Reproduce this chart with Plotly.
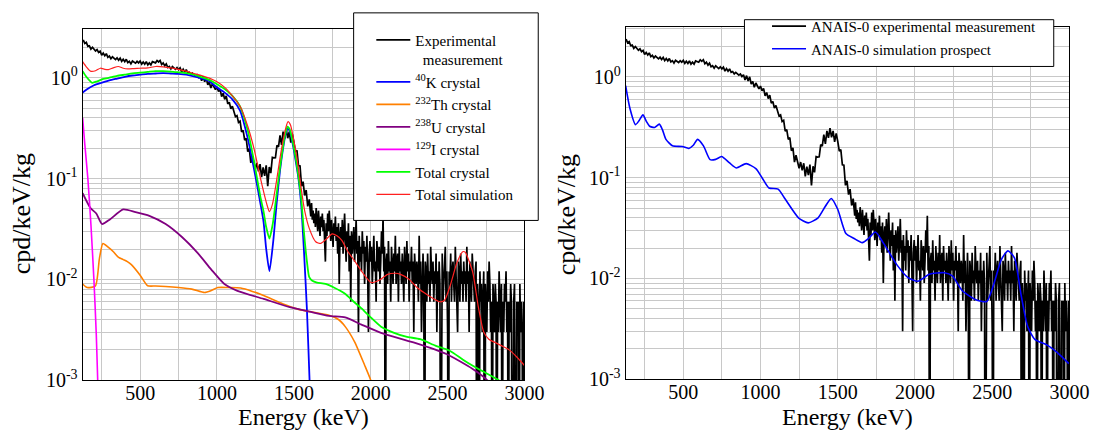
import plotly.graph_objects as go

FONT = "Liberation Serif"
GRID = "#c8c8c8"
W, H = 1106, 430

# ---------------- experimental measurement (cpd/keV/kg) ----------------
exp_low_energy = list(range(130, 1601, 10))
exp_low_rate = [
    2.37, 2.18, 2.24, 2.04, 2.07, 1.92, 2.00, 1.92, 1.84, 1.90,
    1.78, 1.83, 1.67, 1.75, 1.65, 1.73, 1.59, 1.64, 1.54, 1.61,
    1.56, 1.51, 1.57, 1.49, 1.56, 1.45, 1.52, 1.44, 1.52, 1.41,
    1.45, 1.37, 1.46, 1.42, 1.39, 1.45, 1.40, 1.46, 1.36, 1.43,
    1.36, 1.44, 1.34, 1.40, 1.34, 1.44, 1.42, 1.40, 1.48, 1.43,
    1.48, 1.35, 1.40, 1.31, 1.37, 1.26, 1.29, 1.22, 1.29, 1.24,
    1.21, 1.26, 1.20, 1.25, 1.14, 1.21, 1.14, 1.20, 1.11, 1.13,
    1.07, 1.11, 1.08, 1.04, 1.07, 1.01, 1.05, 0.93, 1.03, 0.91,
    1.00, 0.85, 0.90, 0.79, 0.87, 0.81, 0.76, 0.81, 0.73, 0.77,
    0.65, 0.70, 0.61, 0.66, 0.55, 0.57, 0.49, 0.52, 0.47, 0.41,
    0.42, 0.36, 0.37, 0.29, 0.30, 0.24, 0.25, 0.185, 0.198, 0.143,
    0.167, 0.145, 0.124, 0.143, 0.118, 0.139, 0.103, 0.129, 0.106, 0.135,
    0.084, 0.130, 0.113, 0.162, 0.160, 0.161, 0.213, 0.206, 0.267, 0.216,
    0.291, 0.248, 0.310, 0.251, 0.291, 0.227, 0.275, 0.230, 0.184, 0.190,
    0.134, 0.133, 0.084, 0.093, 0.068, 0.077, 0.053, 0.062,
]
exp_high_energy = list(range(1605, 3001, 5))
exp_high_rate = [
    .051, .042, .057, .039, .048, .036, .045, .033, .051, .039, .030, .048, .036, .027, .042, .033, .045, .030, .039, .024,
    .015, .036, .027, .045, .030, .048, .033, .024, .039, .030, .021, .036, .027, .042, .024, .033, .018, .036, .009, .027,
    .033, .021, .039, .018, .027, .045, .024, .015, .030, .021, .036, .012, .027, .006, .030, .018, .024, .033, .015, .027,
    .039, .018, .024, .003, .027, .015, .021, .012, .030, .018, .024, .009, .021, .015, .027, .012, .003, .018, .024, .015,
    .021, .009, .018, .027, .012, .015, .006, .024, .018, .012, .021, .009, .015, .030, .018, .042, .012, .021, 0, .015,
    .018, .009, .024, .012, .015, .006, .021, .015, .009, .018, .012, .027, .009, .015, .018, .006, .021, .012, .015, .009,
    .018, .012, .006, .021, .015, .009, .024, .012, .018, .006, .015, .012, .021, .009, .015, .003, .018, .012, .009, .015,
    .012, .006, .027, .009, .015, .003, .012, .018, .009, 0, .015, .012, .006, .018, .009, .012, .006, .021, .012, .009,
    .015, .006, .012, .009, .018, .003, .012, .006, .015, .009, 0, .012, .018, .006, .009, .012, .021, .006, .012, .003,
    0, .012, .009, .018, .006, .012, .015, .009, .006, .021, .012, .009, .003, .015, .012, .006, .018, .009, .012, .006,
    .015, .009, .012, .006, .021, .009, .012, .003, .015, .009, .006, .018, .012, .009, .006, .012, .015, 0, .009, .006,
    0, .012, .006, .009, .003, .006, .012, 0, .009, .006, .003, .012, .006, .015, .009, .003, .006, 0, .009, .006,
    .003, .009, .006, 0, .006, .003, .012, .006, .003, .009, 0, .006, .003, .009, .006, .012, .003, .006, 0, .006,
    .003, .009, .006, 0, .003, .006, .009, .003, 0, .006, .003, .006, 0, .009, .003, .006, .003, 0, .006, .003,
]
exp_energy = exp_low_energy + exp_high_energy
exp_rate = exp_low_rate + exp_high_rate
# empty bins are drawn down to below the axis floor, as on the log plot
exp_plot = [v if v > 0 else 1e-5 for v in exp_rate]

# ---------------- simulated components (left panel) ----------------
k40_energy = [126, 150, 200, 250, 300, 350, 400, 450, 500, 550, 600, 650, 700, 750, 800, 850, 900, 950,
              1000, 1050, 1100, 1150, 1200, 1250, 1282, 1303, 1320, 1341, 1366, 1388, 1410, 1430, 1445,
              1458, 1472, 1490, 1515, 1530, 1547, 1565, 1585, 1602, 1615]
k40_rate = [0.71, 0.76, 0.84, 0.89, 0.94, 0.98, 1.02, 1.05, 1.07, 1.09, 1.10, 1.11, 1.10, 1.09, 1.07, 1.03, 0.98, 0.92,
            0.80, 0.71, 0.61, 0.47, 0.25, 0.105, 0.057, 0.037, 0.020, 0.0121, 0.024, 0.057, 0.12, 0.20, 0.27,
            0.31, 0.30, 0.23, 0.14, 0.10, 0.057, 0.02, 0.005, 0.001, 0.0003]

th232_energy = [126, 156, 209, 235, 258, 290, 326, 360, 390, 417, 443, 500, 549, 600, 666, 750, 836, 920, 960,
                1005, 1080, 1154, 1230, 1303, 1430, 1520, 1600, 1728, 1790, 1834, 1895, 1961, 2000, 2030]
th232_rate = [0.0090, 0.0083, 0.0086, 0.016, 0.0227, 0.021, 0.0188, 0.0165, 0.0157, 0.0150, 0.0140, 0.0110,
              0.00865, 0.0086, 0.0085, 0.0083, 0.0080, 0.0074, 0.0077, 0.0083, 0.0083, 0.0082, 0.0076, 0.0069,
              0.0057, 0.0051, 0.0048, 0.0044, 0.0040, 0.0034, 0.0024, 0.0014, 0.0010, 0.0007]

u238_energy = [126, 177, 215, 252, 305, 390, 470, 560, 666, 772, 878, 963, 1048, 1133, 1303, 1473, 1600,
               1728, 1834, 1940, 2067, 2278, 2492, 2661, 2757, 2800]
u238_rate = [0.0716, 0.051, 0.045, 0.0354, 0.0395, 0.0494, 0.0465, 0.0427, 0.0354, 0.0263, 0.018, 0.0125,
             0.0090, 0.0077, 0.0064, 0.0053, 0.0048, 0.00435, 0.0042, 0.00356, 0.00295, 0.00237, 0.00182,
             0.0013, 0.0010, 0.0008]

i129_energy = [126, 140, 160, 180, 200, 215, 224, 235]
i129_rate = [0.40, 0.22, 0.10, 0.035, 0.0095, 0.0028, 0.0010, 0.0003]

crystal_energy = [126, 150, 188, 220, 260, 300, 350, 400, 450, 500, 550, 600, 650, 700, 750, 800, 850, 900,
                  950, 1000, 1050, 1100, 1150, 1200, 1240, 1282, 1303, 1320, 1341, 1362, 1388, 1410, 1430,
                  1445, 1458, 1472, 1490, 1515, 1530, 1547, 1565, 1585, 1600, 1620, 1650, 1706, 1760, 1833,
                  1890, 1940, 2000, 2067, 2152, 2230, 2322, 2420, 2513, 2600, 2661, 2740, 2835]
crystal_rate = [1.16, 1.02, 0.89, 0.92, 0.97, 1.00, 1.04, 1.07, 1.10, 1.12, 1.14, 1.16, 1.16, 1.15, 1.13, 1.11,
                1.07, 1.01, 0.95, 0.86, 0.77, 0.66, 0.52, 0.30, 0.15, 0.066, 0.047, 0.033, 0.0254, 0.035,
                0.07, 0.13, 0.21, 0.28, 0.327, 0.31, 0.24, 0.15, 0.105, 0.065, 0.03, 0.015, 0.0105, 0.0097,
                0.0093, 0.0090, 0.0083, 0.0072, 0.0060, 0.00515, 0.0042, 0.0034, 0.00295, 0.0027, 0.00255,
                0.0022, 0.00196, 0.0016, 0.0014, 0.0012, 0.0010]

total_energy = [126, 150, 177, 210, 241, 270, 294, 325, 358, 390, 420, 460, 500, 550, 602, 650, 700, 750, 800,
                850, 900, 950, 1000, 1050, 1100, 1150, 1200, 1240, 1280, 1305, 1325, 1341, 1360, 1385, 1410,
                1430, 1448, 1462, 1478, 1495, 1520, 1545, 1570, 1600, 1642, 1674, 1710, 1749, 1780, 1812,
                1850, 1897, 1950, 2003, 2055, 2110, 2160, 2194, 2250, 2301, 2370, 2449, 2480, 2520, 2560,
                2598, 2615, 2640, 2665, 2700, 2735, 2768, 2800, 2853, 2900, 2950, 3000]
total_rate = [1.44, 1.28, 1.16, 1.17, 1.24, 1.21, 1.20, 1.25, 1.29, 1.24, 1.22, 1.23, 1.24, 1.25, 1.29, 1.28,
              1.25, 1.21, 1.16, 1.10, 1.05, 0.99, 0.91, 0.80, 0.66, 0.52, 0.33, 0.20, 0.105, 0.072, 0.055,
              0.047, 0.055, 0.09, 0.16, 0.24, 0.32, 0.366, 0.34, 0.26, 0.16, 0.085, 0.048, 0.032, 0.0236,
              0.0227, 0.025, 0.0283, 0.027, 0.0244, 0.019, 0.0151, 0.0115, 0.0093, 0.0098, 0.0112, 0.0115,
              0.0112, 0.0100, 0.0083, 0.0070, 0.0060, 0.0062, 0.0090, 0.0145, 0.0188, 0.0186, 0.0151, 0.0115,
              0.0053, 0.0030, 0.00255, 0.0024, 0.00219, 0.0020, 0.0017, 0.0014]

# ---------------- simulation prospect (right panel) ----------------
prospect_energy = [127, 155, 191, 215, 239, 262, 282, 314, 345, 365, 388, 430, 494, 536, 565, 593, 631, 674,
                   710, 748, 800, 843, 907, 970, 1010, 1055, 1114, 1161, 1246, 1309, 1373, 1420, 1458, 1500,
                   1553, 1606, 1659, 1700, 1744, 1797, 1881, 1955, 2019, 2093, 2189, 2242, 2305, 2390, 2464,
                   2517, 2559, 2602, 2644, 2686, 2729, 2776, 2856, 2920, 2996]
prospect_rate = [0.82, 0.486, 0.336, 0.37, 0.42, 0.36, 0.324, 0.315, 0.34, 0.30, 0.24, 0.207, 0.204, 0.195,
                 0.21, 0.24, 0.207, 0.151, 0.152, 0.162, 0.14, 0.125, 0.138, 0.123, 0.10, 0.079, 0.077, 0.061,
                 0.040, 0.0356, 0.040, 0.052, 0.0622, 0.0486, 0.0279, 0.0249, 0.0227, 0.025, 0.0289, 0.0223,
                 0.0138, 0.0102, 0.0094, 0.011, 0.0114, 0.0106, 0.0076, 0.0062, 0.0059, 0.0095, 0.0154,
                 0.0188, 0.016, 0.0070, 0.00336, 0.00249, 0.00218, 0.00185, 0.00143]

# ---------------- axis labels ----------------
y_tick_vals = [0.001, 0.01, 0.1, 1]
y_tick_text = ["10<sup>-3</sup>", "10<sup>-2</sup>", "10<sup>-1</sup>", "10<sup>0</sup>"]
x_title = "Energy (keV)"
y_title = "cpd/keV/kg"

minor_y = [m * 10.0 ** d for d in (-3, -2, -1, 0) for m in range(2, 10)]

fig = go.Figure()

def line(x, y, name, color, width, xa, ya, legend, group):
    fig.add_trace(go.Scatter(x=x, y=y, name=name, mode="lines",
                             line=dict(color=color, width=width, shape="spline", smoothing=0.6),
                             xaxis=xa, yaxis=ya, legend=legend, legendgroup=group))

def raw(x, y, name, color, width, xa, ya, legend, group):
    fig.add_trace(go.Scatter(x=x, y=y, name=name, mode="lines",
                             line=dict(color=color, width=width),
                             xaxis=xa, yaxis=ya, legend=legend, legendgroup=group))

raw(exp_energy, exp_plot, "Experimental<br>\u00a0\u00a0measurement", "black", 1.7, "x", "y", "legend", "a")
line(k40_energy, k40_rate, "<sup>40</sup>K crystal", "#0000ff", 1.8, "x", "y", "legend", "b")
line(th232_energy, th232_rate, "<sup>232</sup>Th crystal", "#ff8000", 1.6, "x", "y", "legend", "c")
line(u238_energy, u238_rate, "<sup>238</sup>U crystal", "#800080", 1.8, "x", "y", "legend", "d")
line(i129_energy, i129_rate, "<sup>129</sup>I crystal", "#ff00ff", 1.6, "x", "y", "legend", "e")
line(crystal_energy, crystal_rate, "Total crystal", "#00ff00", 1.8, "x", "y", "legend", "f")
line(total_energy, total_rate, "Total simulation", "#ff2020", 1.2, "x", "y", "legend", "g")

raw(exp_energy, exp_plot, "ANAIS-0 experimental measurement", "black", 1.7, "x2", "y2", "legend2", "h")
line(prospect_energy, prospect_rate, "ANAIS-0 simulation prospect", "#0000ff", 1.6, "x2", "y2", "legend2", "i")

def px(v):
    return v / W

def py(v):
    return 1 - v / H

xcommon = dict(type="linear", dtick=500, tick0=0, showgrid=True, gridcolor=GRID, gridwidth=1,
               minor=dict(dtick=250, tick0=0, showgrid=True, gridcolor=GRID, gridwidth=1),
               showline=True, linecolor="black", linewidth=1, mirror=True, ticks="",
               ticklabelstandoff=-5,
               tickfont=dict(family=FONT, size=20, color="black"), zeroline=False)
ycommon = dict(type="log", tickmode="array", tickvals=y_tick_vals, ticktext=y_tick_text,
               showgrid=True, gridcolor=GRID, gridwidth=1,
               minor=dict(tickvals=minor_y, showgrid=True, gridcolor=GRID, gridwidth=1, ticks=""),
               showline=True, linecolor="black", linewidth=1, mirror=True, ticks="",
               tickfont=dict(family=FONT, size=20, color="black"), zeroline=False)

fig.update_layout(
    width=W, height=H, margin=dict(l=0, r=0, t=0, b=0),
    paper_bgcolor="white", plot_bgcolor="white",
    font=dict(family=FONT, color="black"),
    xaxis=dict(xcommon, domain=[px(76), px(526)], range=[126, 3000], anchor="y"),
    yaxis=dict(ycommon, domain=[py(382), py(22)], range=[-3, 0.478], anchor="x"),
    xaxis2=dict(xcommon, domain=[px(629), px(1081)], range=[127, 3000], anchor="y2"),
    yaxis2=dict(ycommon, domain=[py(381), py(19)], range=[-3, 0.50], anchor="x2"),
    legend=dict(x=px(370), y=py(16), xanchor="left", yanchor="top", bgcolor="rgba(0,0,0,0)",
                borderwidth=0, font=dict(family=FONT, size=15, color="black"), itemwidth=34,
                valign="top", tracegroupgap=0),
    legend2=dict(x=px(773), y=py(2), xanchor="left", yanchor="top", bgcolor="rgba(0,0,0,0)",
                 borderwidth=0, font=dict(family=FONT, size=15, color="black"), itemwidth=34,
                 valign="top", tracegroupgap=0),
    shapes=[
        dict(type="rect", xref="paper", yref="paper", x0=px(352), x1=px(540), y0=py(218), y1=py(5),
             fillcolor="white", line=dict(color="black", width=1), layer="above"),
        dict(type="rect", xref="paper", yref="paper", x0=px(750), x1=px(1065), y0=py(60), y1=py(12),
             fillcolor="white", line=dict(color="black", width=1), layer="above"),
    ],
    annotations=[
        dict(text=x_title, xref="paper", yref="paper", x=px(301), y=py(420), showarrow=False,
             xanchor="center", yanchor="middle", font=dict(family=FONT, size=24, color="black")),
        dict(text=x_title, xref="paper", yref="paper", x=px(855), y=py(420), showarrow=False,
             xanchor="center", yanchor="middle", font=dict(family=FONT, size=24, color="black")),
        dict(text=y_title, xref="paper", yref="paper", x=px(14), y=py(211), showarrow=False,
             textangle=-90, xanchor="center", yanchor="middle", font=dict(family=FONT, size=26, color="black")),
        dict(text=y_title, xref="paper", yref="paper", x=px(569), y=py(212), showarrow=False,
             textangle=-90, xanchor="center", yanchor="middle", font=dict(family=FONT, size=26, color="black")),
    ],
    showlegend=True,
)

fig.write_html("out.html")
